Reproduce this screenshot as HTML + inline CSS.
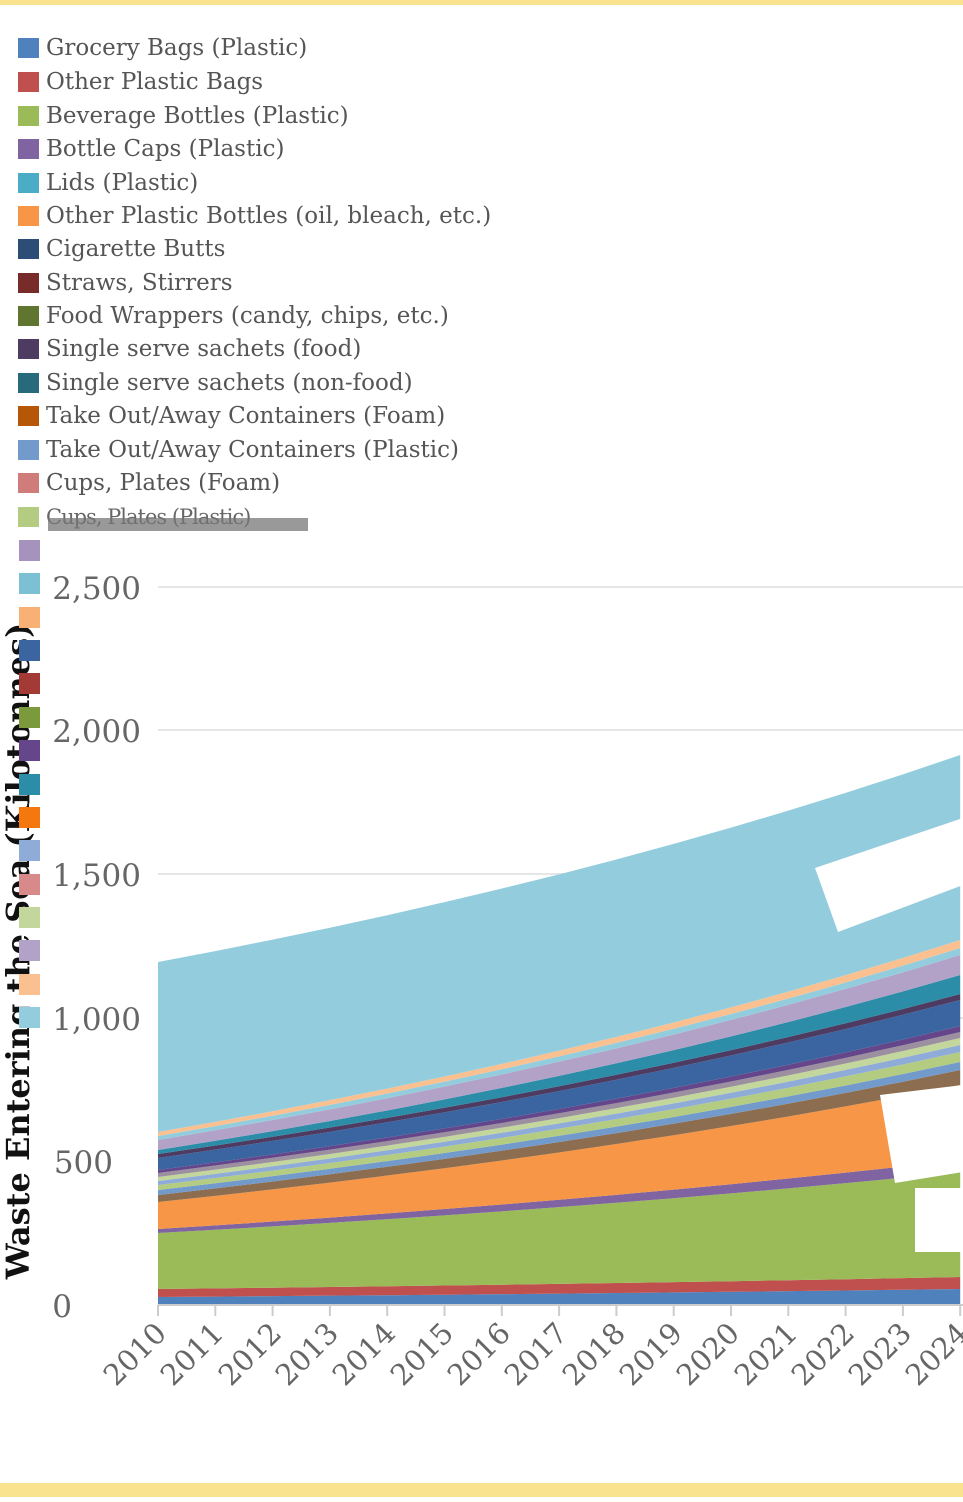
<!DOCTYPE html>
<html><head><meta charset="utf-8"><style>
body{margin:0;width:963px;height:1502px;background:#fff;overflow:hidden;font-family:"DejaVu Serif",serif;}
.bar{position:absolute;left:0;width:963px;background:#fae38f}
.lg{position:absolute;left:18px;font-size:23px;color:#555;white-space:nowrap;font-family:"DejaVu Serif",serif;line-height:26px}
.lg i{display:inline-block;width:21px;height:20px;vertical-align:-3px;margin-right:7px}
.sq{position:absolute;left:19px;width:21px;height:21px}
</style></head><body>
<div class="bar" style="top:0;height:5px"></div>
<div class="bar" style="top:1483px;height:14px"></div>
<svg id="s" width="963" height="1502" style="position:absolute;left:0;top:0">
<g stroke="#e6e6e6" stroke-width="2">
<line x1="158" x2="963" y1="587" y2="587"/><line x1="158" x2="963" y1="730" y2="730"/>
<line x1="158" x2="963" y1="874" y2="874"/><line x1="158" x2="963" y1="1018" y2="1018"/>
<line x1="158" x2="963" y1="1161" y2="1161"/>
</g>
<g id="areas"></g>
<polygon points="815,868 963,818 963,885 838,932" fill="#fff"/>
<polygon points="880,1095 963,1085 963,1172 895,1183" fill="#fff"/>
<rect x="915" y="1188" width="48" height="64" fill="#fff"/>
<line x1="158" x2="963" y1="1305" y2="1305" stroke="#ccc" stroke-width="2"/>
<g id="ticks" stroke="#ccc" stroke-width="2"></g>
<g font-family="DejaVu Serif, serif" font-size="31" fill="#666" text-anchor="end">
<text x="141" y="599">2,500</text><text x="141" y="742">2,000</text><text x="141" y="886">1,500</text>
<text x="141" y="1030">1,000</text><text x="113" y="1173">500</text><text x="72" y="1317">0</text>
</g>
<g font-family="DejaVu Serif, serif" font-size="29" fill="#666" text-anchor="end">
<text transform="translate(168,1335) rotate(-45)">2010</text>
<text transform="translate(225,1335) rotate(-45)">2011</text>
<text transform="translate(283,1335) rotate(-45)">2012</text>
<text transform="translate(340,1335) rotate(-45)">2013</text>
<text transform="translate(397,1335) rotate(-45)">2014</text>
<text transform="translate(455,1335) rotate(-45)">2015</text>
<text transform="translate(512,1335) rotate(-45)">2016</text>
<text transform="translate(569,1335) rotate(-45)">2017</text>
<text transform="translate(627,1335) rotate(-45)">2018</text>
<text transform="translate(684,1335) rotate(-45)">2019</text>
<text transform="translate(741,1335) rotate(-45)">2020</text>
<text transform="translate(799,1335) rotate(-45)">2021</text>
<text transform="translate(856,1335) rotate(-45)">2022</text>
<text transform="translate(913,1335) rotate(-45)">2023</text>
<text transform="translate(970,1335) rotate(-45)">2024</text>
</g>
<text transform="translate(29,951) rotate(-90)" text-anchor="middle" font-family="DejaVu Serif, serif" font-size="32" font-weight="bold" fill="#111">Waste Entering the Sea (Kilotonnes)</text>
</svg>
<div class="lg" style="top:35px"><i style="background:#4f81bd"></i>Grocery Bags (Plastic)</div>
<div class="lg" style="top:69px"><i style="background:#c0504d"></i>Other Plastic Bags</div>
<div class="lg" style="top:103px"><i style="background:#9bbb59"></i>Beverage Bottles (Plastic)</div>
<div class="lg" style="top:136px"><i style="background:#8064a2"></i>Bottle Caps (Plastic)</div>
<div class="lg" style="top:170px"><i style="background:#4bacc6"></i>Lids (Plastic)</div>
<div class="lg" style="top:203px"><i style="background:#f79646"></i>Other Plastic Bottles (oil, bleach, etc.)</div>
<div class="lg" style="top:236px"><i style="background:#2c4d75"></i>Cigarette Butts</div>
<div class="lg" style="top:270px"><i style="background:#772c2a"></i>Straws, Stirrers</div>
<div class="lg" style="top:303px"><i style="background:#5f7530"></i>Food Wrappers (candy, chips, etc.)</div>
<div class="lg" style="top:336px"><i style="background:#4d3b62"></i>Single serve sachets (food)</div>
<div class="lg" style="top:370px"><i style="background:#276a7c"></i>Single serve sachets (non-food)</div>
<div class="lg" style="top:403px"><i style="background:#b65708"></i>Take Out/Away Containers (Foam)</div>
<div class="lg" style="top:437px"><i style="background:#729aca"></i>Take Out/Away Containers (Plastic)</div>
<div class="lg" style="top:470px"><i style="background:#d07c7a"></i>Cups, Plates (Foam)</div>
<div class="lg" style="top:504px;"><i style="background:#b3cc82"></i><span style="color:#666;letter-spacing:-1px;font-size:21px">Cups, Plates (Plastic)</span></div>
<div style="position:absolute;left:48px;top:518px;width:260px;height:13px;background:#777;opacity:.75"></div>
<div class="sq" style="top:540px;background:#a592bd"></div>
<div class="sq" style="top:573px;background:#7bc0d3"></div>
<div class="sq" style="top:607px;background:#f9b074"></div>
<div class="sq" style="top:640px;background:#3a65a0"></div>
<div class="sq" style="top:673px;background:#a33a36"></div>
<div class="sq" style="top:707px;background:#7a9a3b"></div>
<div class="sq" style="top:740px;background:#65468a"></div>
<div class="sq" style="top:774px;background:#2c8da8"></div>
<div class="sq" style="top:807px;background:#f4780e"></div>
<div class="sq" style="top:840px;background:#8eacd7"></div>
<div class="sq" style="top:874px;background:#d8898a"></div>
<div class="sq" style="top:907px;background:#c3d69b"></div>
<div class="sq" style="top:940px;background:#b3a2c7"></div>
<div class="sq" style="top:974px;background:#fac090"></div>
<div class="sq" style="top:1007px;background:#93cddd"></div>
<script>
var B=[[1305,1305],[1297,1289],[1289,1277],[1233,1172],[1229,1160],[1202,1085],[1195,1070],[1190,1062],[1185,1052],[1181,1045],[1177,1038],[1173,1032],[1170,1026],[1158,1000],[1154,994],[1150,975],[1140,955],[1136,948],[1132,940],[962,755]];
var C=["#4f81bd","#c0504d","#9bbb59","#8064a2","#f79646","#8c6d4f","#729aca","#b3cc82","#8eacd7","#c3d69b","#9b8fa0","#65468a","#3a65a0","#4d3b62","#2c8da8","#b3a2c7","#93cddd","#fac090","#93cddd"];
function X(i){return 158+i*57.3}
function f(i){return (Math.pow(1.045,i)-1)/(Math.pow(1.045,14)-1)}
function Y(b,i){return B[b][0]+(B[b][1]-B[b][0])*f(i)}
var g=document.getElementById('areas'),h='';
for(var k=0;k<B.length-1;k++){var p=[];for(var i=0;i<=14;i++)p.push(X(i)+','+Y(k+1,i));for(var i=14;i>=0;i--)p.push(X(i)+','+Y(k,i));
h+='<polygon fill="'+C[k]+'" points="'+p.join(' ')+'"/>';}
g.innerHTML=h;
var t='';for(var i=0;i<=14;i++)t+='<line x1="'+X(i)+'" x2="'+X(i)+'" y1="1305" y2="1316"/>';
document.getElementById('ticks').innerHTML=t;
</script>
</body></html>
